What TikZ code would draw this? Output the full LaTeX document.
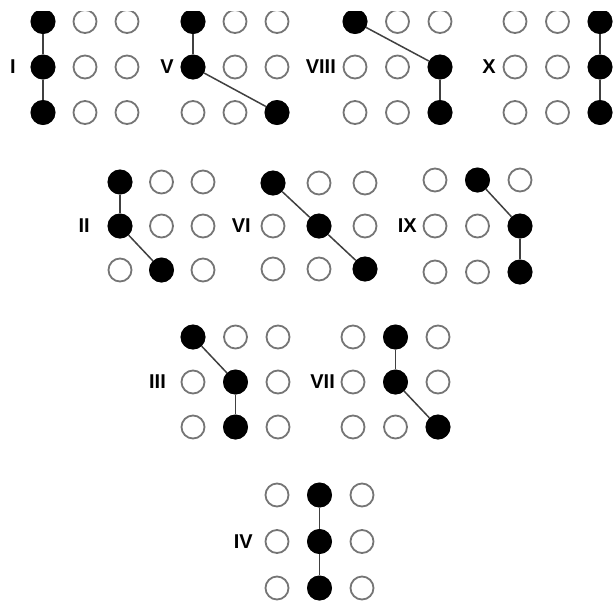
\documentclass[tikz,border=0pt]{standalone}
\usepackage{fontspec}
\setmainfont{Liberation Sans}
\definecolor{ringgray}{HTML}{757575}
\definecolor{linkgray}{HTML}{404040}
\tikzset{
  opendot/.style={circle, draw=ringgray, line width=1.8pt, fill=white, minimum size=23pt, inner sep=0pt},
  fulldot/.style={circle, fill=black, minimum size=25pt, inner sep=0pt},
  link/.style={draw=linkgray, line width=1.5pt},
  lab/.style={inner sep=0pt, font=\fontsize{20}{20}\selectfont\bfseries}
}
% #1 id/label, #2 x1, #3 dx, #4 y1, #5 dy, #6 label east x, #7 filled, #8 edges
\newcommand\dpanel[8]{%
  \foreach \r in {1,2,3}{\foreach \c in {1,2,3}{%
    \node[opendot] (#1-\r\c) at ({#2+(\c-1)*(#3)},{#4+(\r-1)*(#5)}) {};}}
  \foreach \f in {#7}{\node[fulldot] (#1-f\f) at (#1-\f) {};}
  \foreach \a/\b in {#8}{\draw[link] (#1-f\a) -- (#1-f\b);}
  \node[lab, anchor=east] (#1-lab) at (#6,{#4+#5}) {#1};
}
\begin{document}
\begin{tikzpicture}[x=1pt,y=-1pt]
\useasboundingbox[fill=white] (0,0) rectangle (613,606);
\begin{scope}
\clip (0,11.5) rectangle (613,606);
\dpanel{I}{43}{42}{21.5}{45.5}{16}{11,21,31}{11/21,21/31}
\dpanel{V}{193}{42}{21.5}{45.5}{174}{11,21,33}{11/21,21/33}
\dpanel{VIII}{355}{42.5}{21.5}{45.5}{336}{11,23,33}{11/23,23/33}
\dpanel{X}{515}{42.5}{21.5}{45.5}{496}{13,23,33}{13/23,23/33}
\end{scope}
\dpanel{II}{120}{41.5}{182}{44}{90}{11,21,32}{11/21,21/32}
\dpanel{VI}{273}{46}{183}{43}{251}{11,22,33}{11/22,22/33}
\dpanel{IX}{435}{42.5}{180}{46}{417}{12,23,33}{12/23,23/33}
\dpanel{III}{193}{42.5}{337}{45}{166}{11,22,32}{11/22,22/32}
\dpanel{VII}{353}{42.5}{337}{45}{335}{12,22,33}{12/22,22/33}
\dpanel{IV}{277}{42.5}{495}{46.5}{253}{12,22,32}{12/22,22/32}
\end{tikzpicture}
\end{document}
